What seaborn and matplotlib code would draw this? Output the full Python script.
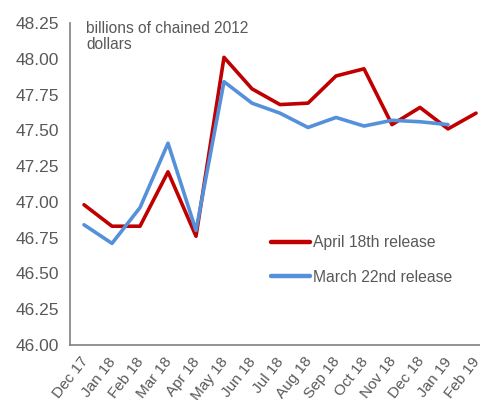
import numpy as np
import pandas as pd
import matplotlib
matplotlib.use("Agg")
import matplotlib.pyplot as plt
import matplotlib.transforms as mtransforms
import seaborn as sns

# Monthly values, billions of chained 2012 dollars
months = ["Dec 17", "Jan 18", "Feb 18", "Mar 18", "Apr 18", "May 18", "Jun 18",
          "Jul 18", "Aug 18", "Sep 18", "Oct 18", "Nov 18", "Dec 18", "Jan 19", "Feb 19"]
april_release = [46.98, 46.83, 46.83, 47.21, 46.76, 48.01, 47.79,
                 47.68, 47.69, 47.88, 47.93, 47.54, 47.66, 47.51, 47.62]
march_release = [46.84, 46.71, 46.96, 47.41, 46.80, 47.84, 47.69,
                 47.62, 47.52, 47.59, 47.53, 47.57, 47.56, 47.54, np.nan]

df = pd.DataFrame({
    "idx": range(len(months)),
    "April 18th release": april_release,
    "March 22nd release": march_release,
})
long_df = df.melt(id_vars="idx", var_name="series", value_name="value").dropna()

sns.set_style("white")
plt.rcParams["font.family"] = ["Liberation Sans", "DejaVu Sans"]
gray = "#595959"

fig = plt.figure(figsize=(4.8, 4.0), dpi=100)
ax = fig.add_axes([70 / 480, 55 / 400, 420 / 480, 322 / 400])

sns.lineplot(data=long_df, x="idx", y="value", hue="series",
             palette={"April 18th release": "#C00000", "March 22nd release": "#5591DA"},
             linewidth=2.6, ax=ax, legend=True)

ax.set_xlim(-0.5, len(months) - 0.5)
ax.set_ylim(46.0, 48.25)
ax.set_yticks(np.arange(46.0, 48.26, 0.25))
ax.set_yticklabels([f"{v:.2f}" for v in np.arange(46.0, 48.26, 0.25)], fontsize=12.5, color=gray)
ax.tick_params(axis="y", length=0, pad=8)

ax.set_xticks(range(len(months)))
ax.set_xticklabels(months, rotation=52, ha="right", va="center", rotation_mode="anchor",
                   fontsize=11, color=gray)
ax.set_xticks(np.arange(-0.5, len(months), 1), minor=True)
ax.tick_params(axis="x", which="major", length=0, pad=10)
ax.tick_params(axis="x", which="minor", length=5, color="#808080", width=1)
shift = mtransforms.ScaledTranslation(1.5 / 100, 0, fig.dpi_scale_trans)
for lbl in ax.get_xticklabels():
    lbl.set_transform(lbl.get_transform() + shift)

ax.set_xlabel("")
ax.set_ylabel("")
for side in ["top", "right"]:
    ax.spines[side].set_visible(False)
for side in ["left", "bottom"]:
    ax.spines[side].set_color("#808080")
    ax.spines[side].set_linewidth(1.2)

ax.text(0.038, 1.005, "billions of chained 2012\ndollars", transform=ax.transAxes,
        ha="left", va="top", fontsize=11.2, color=gray, linespacing=1.05)

leg = ax.legend(loc="upper left", bbox_to_anchor=(0.445, 0.385), frameon=False,
                handlelength=2.5, handletextpad=0.2, labelspacing=1.25,
                fontsize=11.3, labelcolor=gray)
for line in leg.get_lines():
    line.set_linewidth(3.2)

fig.savefig("out.png", dpi=100)
